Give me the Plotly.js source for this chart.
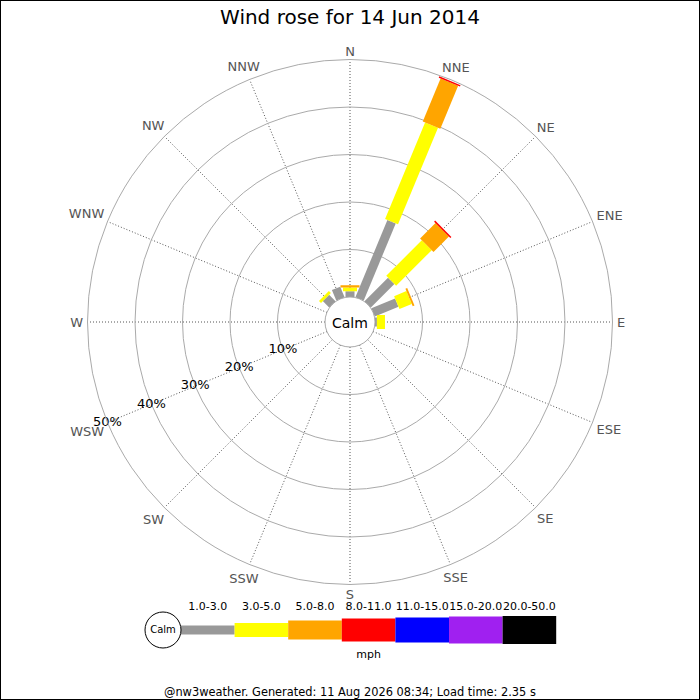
<!DOCTYPE html>
<html>
<head>
<meta charset="utf-8">
<script src="https://cdn.plot.ly/plotly-3.0.1.min.js"></script>
<style>html,body{margin:0;padding:0;background:#fff;}#chart{width:700px;height:700px;}</style>
</head>
<body>
<div id="chart"></div>
<script>
// ---- data ----
const directions = ['N','NNE','NE','ENE','E','ESE','SE','SSE','S','SSW','SW','WSW','W','WNW','NW','NNW'];
const speedBins = ['1.0-3.0','3.0-5.0','5.0-8.0','8.0-11.0','11.0-15.0','15.0-20.0','20.0-50.0'];
// percentage of time per direction, for each speed bin (mph)
const bin1to3   = [1.2, 17.6, 7.0, 5.4, 0.4, 0, 0, 0, 0, 0, 0, 0, 0, 0, 1.9, 2.4];
const bin3to5   = [0.8, 22.0, 10.6, 2.8, 1.7, 0, 0, 0, 0, 0, 0, 0, 0, 0, 0.6, 0];
const bin5to8   = [0.5, 9.8, 4.6, 0.4, 0, 0, 0, 0, 0, 0, 0, 0, 0, 0, 0, 0];
const bin8to11  = [0, 0.3, 0.3, 0, 0, 0, 0, 0, 0, 0, 0, 0, 0, 0, 0, 0];
const bin11to15 = [0, 0, 0, 0, 0, 0, 0, 0, 0, 0, 0, 0, 0, 0, 0, 0];
const bin15to20 = [0, 0, 0, 0, 0, 0, 0, 0, 0, 0, 0, 0, 0, 0, 0, 0];
const bin20to50 = [0, 0, 0, 0, 0, 0, 0, 0, 0, 0, 0, 0, 0, 0, 0, 0];
const radialTicks = [10, 20, 30, 40, 50];
const radialTickText = ['10%', '20%', '30%', '40%', '50%'];
const titleText = 'Wind rose for 14 Jun 2014';
const footerText = '@nw3weather. Generated: 11 Aug 2026 08:34; Load time: 2.35 s';

// ---- styles ----
const binSeries = [bin1to3, bin3to5, bin5to8, bin8to11, bin11to15, bin15to20, bin20to50];
const binColors = ['#999999', '#ffff00', '#ffa500', '#ff0000', '#0000ff', '#a020f0', '#000000'];
const binWidths = [9, 14, 19, 23, 25, 27, 28];
const FONT = 'DejaVu Sans, Verdana, sans-serif';

const W = 700, H = 700;
const cx = 350, cy = 322, R = 262.5, holePx = 25;
const rMax = 50;
const domainFor = (rad, dy) => ({
  x: [(cx - rad) / W, (cx + rad) / W],
  y: [1 - (cy + dy + rad) / H, 1 - (cy + dy - rad) / H]
});
// a second, invisible and larger polar frame that only carries the compass labels
// (nudged down slightly so the capital letters sit optically centred)
const R2 = 300, rMax2 = 60, labelNudge = 2;
const pxPerUnit2 = (R2 - holePx) / rMax2;

const traces = [];
// cumulative stacked segments
const base = directions.map(() => 0);
binSeries.forEach((vals, b) => {
  const r = [], th = [];
  vals.forEach((v, i) => {
    if (v > 0) {
      r.push(base[i], base[i] + v, null);
      th.push(directions[i], directions[i], null);
      base[i] += v;
    }
  });
  if (r.length) {
    traces.push({
      type: 'scatterpolar', mode: 'lines', r: r, theta: th,
      line: {color: binColors[b], width: binWidths[b]},
      hoverinfo: 'skip', showlegend: false, connectgaps: false
    });
  }
});
// radial percent labels along WSW
traces.push({
  type: 'scatterpolar', mode: 'text',
  r: radialTicks, theta: radialTicks.map(() => 'WSW'),
  text: radialTickText, textposition: 'middle center',
  textfont: {family: FONT, size: 13, color: '#000'},
  hoverinfo: 'skip', showlegend: false, cliponaxis: false
});
// compass labels just outside the outer ring (offset by half the label's extent)
const labelSize = 13, capH = 9.5, gapPx = 267;
const charEm = {N: 0.748, E: 0.632, S: 0.635, W: 0.989};
const labelR = directions.map((d, i) => {
  const wpx = d.split('').reduce((s, c) => s + charEm[c], 0) * labelSize;
  const a = i * Math.PI / 8;
  const ext = 0.5 * (wpx * Math.abs(Math.sin(a)) + capH * Math.abs(Math.cos(a)));
  return (gapPx + ext - holePx) / pxPerUnit2;
});
traces.push({
  type: 'scatterpolar', subplot: 'polar2', mode: 'text',
  r: labelR, theta: directions, text: directions, textposition: 'middle center',
  textfont: {family: FONT, size: labelSize, color: '#555555'},
  hoverinfo: 'skip', showlegend: false, cliponaxis: false
});

// ---- speed key (bottom) ----
const segPx = 53.6, keyX0 = 181;
const keyDomPx = [130, 570];
const keyRange = [(keyDomPx[0] - keyX0) / segPx, (keyDomPx[1] - keyX0) / segPx];
speedBins.forEach((lab, b) => {
  traces.push({
    type: 'scatter', mode: 'lines', x: [b, b + 1], y: [0, 0],
    xaxis: 'x', yaxis: 'y',
    line: {color: binColors[b], width: binWidths[b]},
    hoverinfo: 'skip', showlegend: false
  });
});
traces.push({
  type: 'scatter', mode: 'text',
  x: speedBins.map((_, i) => i + 0.5), y: speedBins.map(() => 0.58),
  text: speedBins, textposition: 'middle center',
  textfont: {family: FONT, size: 11, color: '#000'},
  xaxis: 'x', yaxis: 'y', hoverinfo: 'skip', showlegend: false, cliponaxis: false
});
traces.push({
  type: 'scatter', mode: 'text', x: [speedBins.length / 2], y: [-0.62],
  text: ['mph'], textposition: 'middle center',
  textfont: {family: FONT, size: 11, color: '#000'},
  xaxis: 'x', yaxis: 'y', hoverinfo: 'skip', showlegend: false, cliponaxis: false
});
traces.push({
  type: 'scatter', mode: 'markers+text', x: [-18 / segPx], y: [0],
  text: ['Calm'], textposition: 'middle center',
  textfont: {family: FONT, size: 10, color: '#000'},
  marker: {size: 36, color: '#fff', line: {color: '#000', width: 1}},
  xaxis: 'x', yaxis: 'y', hoverinfo: 'skip', showlegend: false, cliponaxis: false
});

const layout = {
  width: W, height: H,
  margin: {l: 0, r: 0, t: 0, b: 0},
  paper_bgcolor: '#fff', plot_bgcolor: '#fff',
  font: {family: FONT, color: '#000'},
  showlegend: false,
  title: {text: titleText, x: 0.5, xanchor: 'center', y: 1 - 17 / H, yanchor: 'middle',
          font: {family: FONT, size: 20, color: '#000'}},
  polar2: {
    domain: domainFor(R2, labelNudge),
    hole: holePx / R2,
    bgcolor: 'rgba(0,0,0,0)',
    radialaxis: {range: [0, rMax2], visible: false, showgrid: false, showline: false,
                 showticklabels: false, ticks: ''},
    angularaxis: {
      type: 'category', categoryarray: directions, rotation: 90, direction: 'clockwise',
      ticks: '', showticklabels: false, showline: false, showgrid: false
    }
  },
  polar: {
    domain: domainFor(R, 0),
    hole: holePx / R,
    bgcolor: '#fff',
    radialaxis: {
      range: [0, rMax], tickvals: [0].concat(radialTicks), showticklabels: false,
      ticks: '', showline: false, gridcolor: '#aaaaaa', gridwidth: 1
    },
    angularaxis: {
      type: 'category', categoryarray: directions, rotation: 90, direction: 'clockwise',
      ticks: '', showticklabels: false, showline: true, linecolor: '#aaaaaa', linewidth: 1,
      gridcolor: '#555555', griddash: '1px,2px', gridwidth: 1
    }
  },
  xaxis: {domain: [keyDomPx[0] / W, keyDomPx[1] / W], range: keyRange, visible: false, fixedrange: true},
  yaxis: {domain: [1 - 670 / H, 1 - 590 / H], range: [-1, 1], visible: false, fixedrange: true},
  annotations: [
    {text: 'Calm', xref: 'paper', yref: 'paper', x: cx / W, y: 1 - (cy + 1) / H,
     xanchor: 'center', yanchor: 'middle', showarrow: false,
     font: {family: FONT, size: 14, color: '#000'}},
    {text: footerText, xref: 'paper', yref: 'paper', x: 0.5, y: 1 - 692 / H,
     xanchor: 'center', yanchor: 'middle', showarrow: false,
     font: {family: FONT, size: 11.4, color: '#000'}}
  ],
  shapes: [
    {type: 'rect', xref: 'paper', yref: 'paper', x0: 0, x1: 1, y0: 0, y1: 1,
     line: {color: '#000', width: 2}, fillcolor: 'rgba(0,0,0,0)', layer: 'above'}
  ]
};

Plotly.newPlot('chart', traces, layout, {staticPlot: true, displayModeBar: false});
</script>
</body>
</html>
